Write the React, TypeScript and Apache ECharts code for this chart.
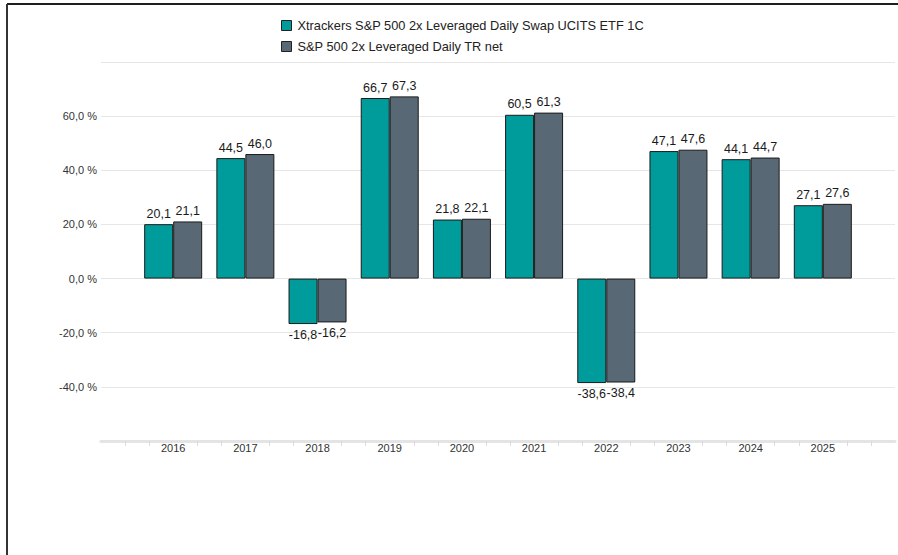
import React, { useEffect, useRef } from "react";
import * as echarts from "echarts";

const years = [2016, 2017, 2018, 2019, 2020, 2021, 2022, 2023, 2024, 2025];
const fundValues = [20.1, 44.5, -16.8, 66.7, 21.8, 60.5, -38.6, 47.1, 44.1, 27.1];
const indexValues = [21.1, 46.0, -16.2, 67.3, 22.1, 61.3, -38.4, 47.6, 44.7, 27.6];
const seriesNames = [
  "Xtrackers S&P 500 2x Leveraged Daily Swap UCITS ETF 1C",
  "S&P 500 2x Leveraged Daily TR net",
];
const yTicks = [-40, -20, 0, 20, 40, 60];

const fmt = (v: number) => v.toFixed(1).replace(".", ",");

export default function App() {
  const ref = useRef<HTMLDivElement>(null);
  useEffect(() => {
    if (!ref.current) return;
    const chart = echarts.init(ref.current, undefined, { renderer: "svg" });
    const mk = (vals: number[]) =>
      vals.map((v, i) => ({
        value: [years[i], v],
        label: { position: v < 0 ? "bottom" : "top" },
      }));
    const labelStyle = {
      show: true,
      formatter: (p: any) => fmt(p.value[1]),
      fontSize: 12.5,
      color: "#1a1a1a",
      fontFamily: "Liberation Sans, Arial, sans-serif",
      distance: 4,
    };
    chart.setOption({
      animation: false,
      backgroundColor: "#fff",
      textStyle: { fontFamily: "Liberation Sans, Arial, sans-serif" },
      legend: {
        orient: "vertical",
        left: 276,
        top: 14,
        itemWidth: 10,
        itemHeight: 10,
        itemGap: 8,
        icon: "rect",
        textStyle: { fontSize: 12.8, color: "#222", padding: [0, 0, 0, 1] },
        itemStyle: { borderColor: "#222", borderWidth: 1 },
        data: seriesNames,
      },
      grid: { left: 101, right: 0, top: 62, bottom: 114 },
      xAxis: {
        type: "value",
        min: 2015,
        max: 2026,
        interval: 1,
        splitLine: { show: false },
        axisLine: { show: true, onZero: false, lineStyle: { color: "#e4e4e4", width: 3 } },
        axisTick: { show: false },
        minorTick: { show: true, splitNumber: 3, length: 5, lineStyle: { color: "#dcdcdc", width: 1 } },
        minorSplitLine: { show: false },
        axisLabel: {
          fontSize: 11,
          color: "#333",
          margin: 1,
          formatter: (v: number) => (years.indexOf(Math.round(v)) >= 0 && Math.abs(v - Math.round(v)) < 1e-6 ? String(Math.round(v)) : ""),
        },
      },
      yAxis: {
        type: "value",
        min: -60,
        max: 80,
        interval: 20,
        axisLine: { show: false },
        axisTick: { show: false },
        splitLine: { lineStyle: { color: "#e6e6e6", width: 1 } },
        axisLabel: {
          fontSize: 11,
          color: "#333",
          margin: 4,
          formatter: (v: number) => (yTicks.indexOf(v) >= 0 ? fmt(v) + " %" : ""),
        },
      },
      graphic: [
        { type: "line", shape: { x1: 7, y1: 4, x2: 898, y2: 4 }, style: { stroke: "#1e1e1e", lineWidth: 2 } },
        { type: "line", shape: { x1: 7, y1: 4, x2: 7, y2: 555 }, style: { stroke: "#333", lineWidth: 2 } },
      ],
      series: [
        {
          name: seriesNames[0],
          type: "bar",
          barWidth: 29,
          barGap: "0%",
          data: mk(fundValues),
          itemStyle: { color: "#009c9c", borderColor: "#1a1a1a", borderWidth: 1 },
          label: labelStyle,
        },
        {
          name: seriesNames[1],
          type: "bar",
          barWidth: 29,
          barGap: "0%",
          data: mk(indexValues),
          itemStyle: { color: "#586975", borderColor: "#1a1a1a", borderWidth: 1 },
          label: labelStyle,
        },
      ],
    });
    return () => chart.dispose();
  }, []);
  return (
    <div
      ref={ref}
      style={{ position: "fixed", left: 0, top: 0, width: 898, height: 555 }}
    />
  );
}
